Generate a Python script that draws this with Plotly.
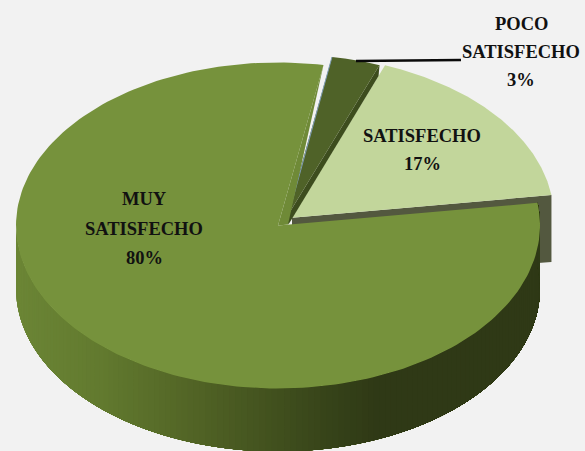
import numpy as np
import plotly.graph_objects as go

categories = ["MUY SATISFECHO", "POCO SATISFECHO", "SATISFECHO"]
values = [80, 3, 17]
label_lines = [["MUY", "SATISFECHO", "80%"], ["POCO", "SATISFECHO", "3%"], ["SATISFECHO", "17%"]]
top_colors = ["#76923c", "#4f6228", "#c2d69b"]

W, H = 585, 451
BG = "#f2f2f2"
RX, RY, DEPTH = 262, 163, 63
START = 80.0  # first slice starts here, sweeping counter-clockwise
CENTERS = {"MUY SATISFECHO": (278, 225.5), "POCO SATISFECHO": (286.5, 217.5), "SATISFECHO": (292, 217.7)}

fig = go.Figure()


def pt(c, t):
    r = np.radians(t)
    return c[0] + RX * np.cos(r), c[1] - RY * np.sin(r)


def poly(xs, ys, color, lw=0.0, lc=None):
    fig.add_trace(go.Scatter(x=list(xs), y=list(ys), mode="lines", fill="toself", fillcolor=color,
                             line=dict(color=lc or color, width=lw), hoverinfo="skip", showlegend=False))


def sector(c, t0, t1, color):
    ts = np.linspace(t0, t1, 200)
    ax, ay = pt(c, ts)
    poly(np.r_[c[0], ax, c[0]], np.r_[c[1], ay, c[1]], color)


def mix(stops, x):
    xs = [s[0] for s in stops]
    ch = [np.interp(x, xs, [s[1][i] for s in stops]) for i in range(3)]
    return "rgb(%d,%d,%d)" % tuple(ch)


# angular extents derived from the values
total = sum(values)
main_t0, main_t1 = START, START + 360 * values[0] / total
poco_t0, poco_t1 = START - 360 * values[1] / total, START
sat_t0, sat_t1 = poco_t0 - 360 * values[2] / total, poco_t0

cm, cp, cs = CENTERS[categories[0]], CENTERS[categories[1]], CENTERS[categories[2]]

# wall of the SATISFECHO slice
tip = pt(cs, sat_t0)
poly([cs[0], tip[0], tip[0], cs[0]], [cs[1], tip[1], tip[1] + DEPTH + 4, cs[1] + DEPTH], "#53583f")
sector(cs, sat_t0, sat_t1, top_colors[2])

# wall of the POCO SATISFECHO slice
tip = pt(cp, poco_t0)
poly([tip[0], tip[0] - 1, cp[0] + 2, cp[0]], [tip[1], tip[1] + 11, cp[1] + 7, cp[1]], "#3d4d1e")
sector(cp, poco_t0, poco_t1, top_colors[1])
tipl = pt(cp, poco_t1)
fig.add_trace(go.Scatter(x=[tipl[0], cp[0]], y=[tipl[1], cp[1] + 4], mode="lines",
                         line=dict(color="#7f9db5", width=1), hoverinfo="skip", showlegend=False))

# outer wall of the main slice, shaded left to right (each strip overlaps the rest, so no seams)
stops = [(15, (108, 134, 54)), (100, (98, 122, 47)), (200, (80, 98, 37)),
         (320, (56, 69, 26)), (375, (47, 57, 22)), (540, (47, 57, 22))]
edges = np.linspace(180, main_t1, 141)
for a in edges[:-1]:
    ts = np.linspace(a, main_t1, 80)
    ax, ay = pt(cm, ts)
    poly(np.r_[ax, ax[::-1]], np.r_[ay, ay[::-1] + DEPTH], mix(stops, ax[0]))

# cut face of the main slice, then its top
tip = pt(cm, main_t0)
poly([tip[0], cm[0], cm[0] + 10], [tip[1], cm[1], cm[1] - 1], "#6f8a37")
sector(cm, main_t0, main_t1, top_colors[0])

# leader line
fig.add_trace(go.Scatter(x=[356, 461], y=[61, 60], mode="lines", line=dict(color="#0a0a0a", width=2.5),
                         hoverinfo="skip", showlegend=False))

# labels
label_x = {0: 144, 1: 521, 2: 422}
label_y = {0: [199, 229, 258], 1: [24, 52, 80], 2: [136, 164]}
for i, lines in enumerate(label_lines):
    for line, y in zip(lines, label_y[i]):
        fig.add_annotation(x=label_x[i], y=y, text=line, showarrow=False, xanchor="center", yanchor="middle",
                           font=dict(family="Liberation Serif", size=18.5, color="#111111", weight="bold"))

fig.update_layout(width=W, height=H, margin=dict(l=0, r=0, t=0, b=0), paper_bgcolor=BG, plot_bgcolor=BG,
                  showlegend=False,
                  xaxis=dict(range=[0, W], visible=False, fixedrange=True),
                  yaxis=dict(range=[H, 0], visible=False, fixedrange=True))
fig.write_html("out.html", config={"displayModeBar": False},
               post_script="document.body.style.margin='0';document.body.style.background='#f2f2f2';document.body.style.overflow='hidden';")
